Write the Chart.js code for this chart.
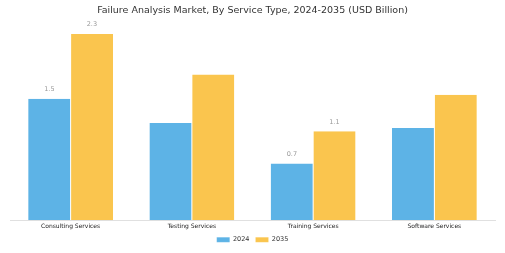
<!DOCTYPE html>
<html>
<head>
<meta charset="utf-8">
<script src="https://cdn.jsdelivr.net/npm/chart.js@4/dist/chart.umd.min.js"></script>
<style>
  html, body { margin: 0; padding: 0; background: #fff; }
  #wrap { width: 505px; height: 253px; }
</style>
</head>
<body>
<div id="wrap"><canvas id="chart"></canvas></div>
<script>
// ---------- Data ----------
const categories = ['Consulting Services', 'Testing Services', 'Training Services', 'Software Services'];
const years = ['2024', '2035'];
const values2024 = [1.5, 1.2, 0.7, 1.14];
const values2035 = [2.3, 1.8, 1.1, 1.55];
// which bars carry a value label (same order as categories)
const labels2024 = [true, false, true, false];
const labels2035 = [true, false, true, false];

const colors = ['#5DB3E6', '#FAC54E'];

// ---------- Value labels ----------
const valueLabels = {
  id: 'valueLabels',
  afterDatasetsDraw(chart) {
    const ctx = chart.ctx;
    const shown = [labels2024, labels2035];
    ctx.save();
    ctx.font = '6.5px "DejaVu Sans", sans-serif';
    ctx.fillStyle = '#999';
    ctx.textAlign = 'center';
    ctx.textBaseline = 'bottom';
    chart.data.datasets.forEach((ds, i) => {
      chart.getDatasetMeta(i).data.forEach((bar, j) => {
        if (!shown[i][j]) return;
        ctx.fillText(ds.data[j].toFixed(1), bar.x, bar.y - 6);
      });
    });
    ctx.restore();
  }
};

new Chart(document.getElementById('chart'), {
  type: 'bar',
  data: {
    labels: categories,
    datasets: [
      { label: years[0], data: values2024, backgroundColor: colors[0], borderColor: '#fff', borderWidth: { right: 0.5 } },
      { label: years[1], data: values2035, backgroundColor: colors[1], borderColor: '#fff', borderWidth: { left: 0.5 } }
    ]
  },
  options: {
    responsive: true,
    maintainAspectRatio: false,
    animation: false,
    devicePixelRatio: 1,
    categoryPercentage: 0.7,
    barPercentage: 1.0,
    layout: { padding: { left: 10, right: 10, top: 0, bottom: 0 } },
    plugins: {
      title: {
        display: true,
        text: 'Failure Analysis Market, By Service Type, 2024-2035 (USD Billion)',
        color: '#333',
        font: { family: '"DejaVu Sans", sans-serif', size: 9.5, weight: 'normal' },
        padding: { top: 5, bottom: 3 }
      },
      legend: {
        position: 'bottom',
        labels: {
          color: '#333',
          font: { family: '"DejaVu Sans", sans-serif', size: 6.5 },
          boxWidth: 13,
          boxHeight: 5,
          padding: 6
        }
      },
      tooltip: { enabled: false }
    },
    scales: {
      x: {
        grid: { display: false, drawTicks: true, tickLength: 3 },
        border: { color: '#e0e0e0' },
        ticks: { color: '#222', font: { family: '"DejaVu Sans", sans-serif', size: 6 }, padding: 0 }
      },
      y: {
        display: false,
        min: 0,
        max: 2.48
      }
    }
  },
  plugins: [valueLabels]
});
</script>
</body>
</html>
